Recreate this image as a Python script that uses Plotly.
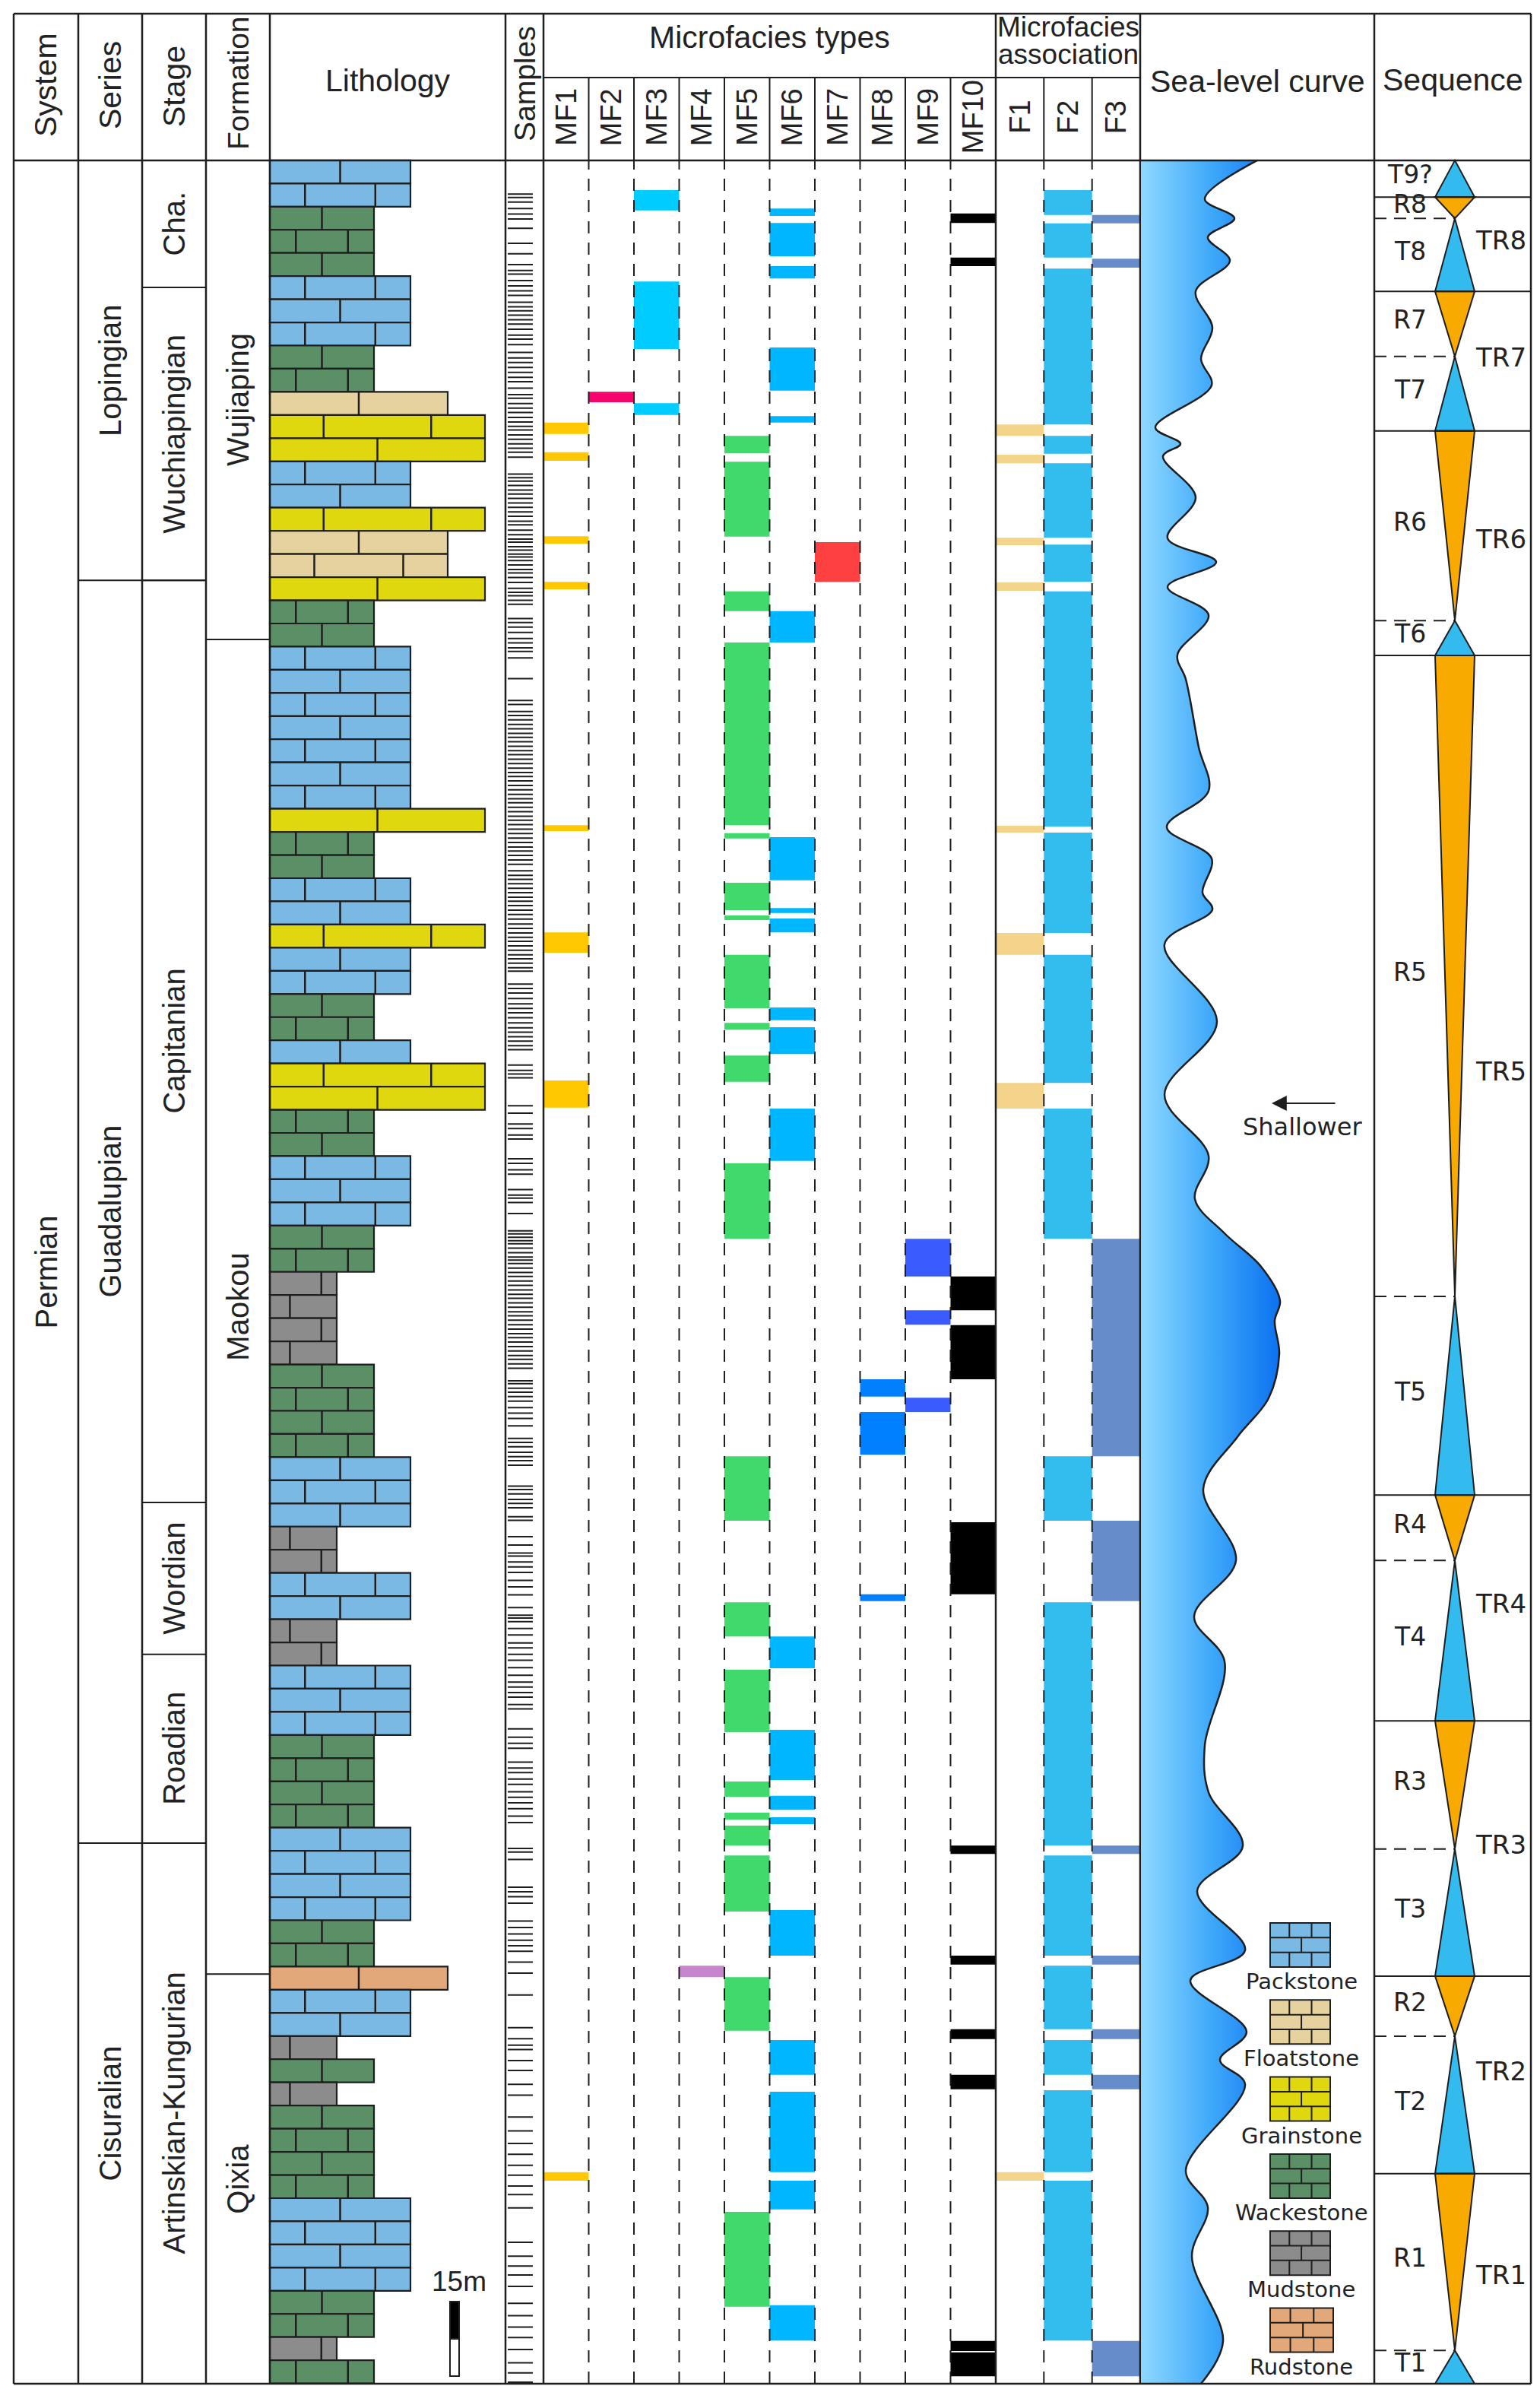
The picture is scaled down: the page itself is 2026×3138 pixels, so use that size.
import plotly.graph_objects as go

INK = "#1e1e1e"
FONT = "Liberation Sans"
WIDE = "DejaVu Sans"

# ---------------------------------------------------------------- data
# all heights in metres above the base of the section
SECTION_TOP = 447.8
BED_T = 4.664  # every bed of the column is drawn with the same thickness

# lithology bed by bed, from the top of the section downwards
LITHO = ("B B G G G B B B G G F Gr Gr B B Gr F F Gr G G B B B B B B B Gr "
         "G G B B Gr B B G G B Gr Gr G G B B B G G M M M M G G G G B B B "
         "M M B B M M B B B G G G G B B B B G G Ru B B M G M G G G G "
         "B B B B G G M G").split()

LITHO_NAMES = {"B": "Packstone", "F": "Floatstone", "Gr": "Grainstone",
               "G": "Wackestone", "M": "Mudstone", "Ru": "Rudstone"}
LEGEND_ORDER = ["B", "F", "Gr", "G", "M", "Ru"]

SYSTEM = [("Permian", 0.0, SECTION_TOP)]
SERIES = [("Lopingian", 363.2, SECTION_TOP), ("Guadalupian", 108.9, 363.2),
          ("Cisuralian", 0.0, 108.9)]
STAGES = [("Cha.", 422.2, SECTION_TOP), ("Wuchiapingian", 363.2, 422.2),
          ("Capitanian", 177.5, 363.2), ("Wordian", 146.9, 177.5),
          ("Roadian", 108.9, 146.9), ("Artinskian-Kungurian", 0.0, 108.9)]
FORMATIONS = [("Wujiaping", 351.3, SECTION_TOP), ("Maokou", 82.5, 351.3),
              ("Qixia", 0.0, 82.5)]

SAMPLES = [
    441.0, 440.3, 439.4, 438.1, 437.0, 436.0, 434.1, 431.1, 429.0, 426.8, 425.6,
    424.9, 423.6, 422.5, 421.5, 420.6, 419.2, 418.3, 417.5, 416.6, 415.7, 414.8,
    413.8, 412.6, 411.8, 410.7, 409.1, 408.0, 407.1, 406.1, 405.1, 404.1, 403.2,
    401.9, 400.6, 399.9, 398.8, 397.9, 397.0, 396.0, 395.1, 394.2, 393.5, 392.5,
    391.6, 390.7, 389.8, 389.0, 388.0, 384.6, 383.9, 383.2, 382.3, 381.4, 380.6,
    379.7, 378.8, 377.9, 377.0, 376.1, 375.1, 374.4, 373.3, 372.4, 371.5, 370.9,
    370.0, 369.3, 368.5, 367.9, 367.2, 366.3, 365.4, 364.7, 363.8, 362.8, 361.6,
    360.8, 360.1, 359.2, 358.4, 355.5, 354.7, 353.8, 352.7, 351.5, 350.6, 349.6,
    348.9, 347.6, 343.4, 339.0, 338.2, 336.8, 336.0, 335.1, 334.2, 333.3, 332.4,
    331.6, 330.7, 329.8, 328.9, 328.1, 327.2, 326.3, 325.4, 324.5, 323.7, 322.8,
    321.9, 321.0, 320.1, 319.2, 318.4, 317.5, 316.6, 315.7, 314.9, 314.0, 313.1,
    312.2, 311.3, 310.4, 309.5, 308.7, 307.8, 306.9, 306.0, 304.7, 303.8, 303.0,
    302.1, 301.2, 300.3, 299.4, 298.6, 297.7, 296.8, 295.9, 295.0, 294.0, 293.1,
    292.2, 291.3, 290.5, 289.6, 288.7, 287.8, 287.0, 286.1, 285.2, 284.5, 281.9,
    281.0, 280.1, 279.0, 277.9, 277.0, 276.1, 275.1, 274.1, 273.1, 272.2, 271.3,
    270.4, 269.5, 268.7, 265.6, 264.5, 263.8, 263.0, 257.4, 255.9, 253.7, 252.8,
    251.5, 250.7, 246.7, 245.8, 244.5, 243.6, 240.5, 239.4, 238.8, 237.9, 235.7,
    232.2, 231.6, 230.9, 230.2, 229.6, 228.7, 227.8, 226.9, 226.3, 225.6, 224.7,
    223.8, 223.0, 222.1, 221.2, 220.3, 219.4, 218.6, 217.7, 216.8, 215.9, 215.1,
    214.2, 213.3, 212.4, 211.5, 210.7, 209.8, 208.9, 208.0, 207.1, 206.3, 205.4,
    204.5, 202.0, 201.4, 200.5, 199.7, 198.8, 197.9, 196.6, 195.5, 194.4, 192.9,
    190.4, 189.6, 188.7, 187.6, 186.7, 185.9, 185.0, 180.8, 180.1, 179.2, 178.1,
    177.3, 176.4, 174.6, 173.9, 170.6, 168.9, 167.3, 166.7, 165.5, 164.5, 163.4,
    161.8, 160.5, 158.9, 156.3, 154.8, 154.2, 153.5, 152.1, 150.8, 149.2, 148.2,
    146.9, 145.7, 144.2, 142.7, 141.3, 140.3, 139.2, 138.3, 136.8, 135.9, 131.9,
    130.2, 129.0, 128.0, 125.2, 124.0, 123.1, 121.8, 120.7, 119.2, 118.1, 117.0,
    115.8, 114.3, 113.0, 107.8, 107.1, 105.6, 100.0, 99.1, 98.1, 96.8, 93.2,
    91.9, 90.6, 89.3, 88.2, 87.1, 84.9, 82.7, 78.3, 71.7, 69.5, 68.2, 67.3,
    65.1, 63.1, 60.3, 58.1, 53.7, 50.9, 48.4, 46.2, 44.0, 42.0, 39.8, 38.1,
    35.4, 28.5, 25.7, 23.7, 21.9, 19.6, 16.2, 13.7, 11.4, 9.3, 6.9, 4.2, 2.2, 0.3,
]

MF_TYPES = ["MF1", "MF2", "MF3", "MF4", "MF5", "MF6", "MF7", "MF8", "MF9", "MF10"]
MF_ASSOC = ["F1", "F2", "F3"]

# (bottom, top) of every occurrence
FACIES = {
    "MF1": [(392.7, 395.0), (387.3, 389.0), (370.6, 372.1), (361.4, 362.9),
            (312.7, 313.9), (288.2, 292.3), (257.0, 262.5), (40.9, 42.6)],
    "MF2": [(399.1, 401.2)],
    "MF3": [(437.7, 441.8), (409.8, 423.4), (396.5, 398.9)],
    "MF4": [(81.9, 84.2)],
    "MF5": [(388.8, 392.3), (372.0, 387.1), (357.0, 361.0), (313.9, 350.7),
            (311.2, 312.3), (296.8, 302.3), (294.8, 295.7), (277.0, 287.8),
            (272.7, 274.1), (262.2, 267.5), (230.6, 245.8), (173.8, 186.8),
            (150.5, 157.4), (131.2, 143.8), (118.2, 121.3), (113.6, 115.0),
            (108.4, 112.4), (95.1, 106.4), (71.1, 81.9), (15.5, 34.6)],
    "MF6": [(436.6, 438.1), (428.5, 435.2), (424.0, 426.5), (401.4, 410.1),
            (395.0, 396.3), (350.7, 357.0), (302.8, 311.5), (296.2, 297.2),
            (292.3, 295.1), (274.6, 277.2), (267.8, 273.2), (246.3, 256.8),
            (144.1, 150.5), (121.6, 131.7), (115.6, 118.4), (112.7, 114.1),
            (86.2, 95.4), (62.2, 69.2), (42.6, 58.8), (35.1, 40.9), (8.7, 15.8)],
    "MF7": [(362.9, 370.9)],
    "MF8": [(198.8, 202.3), (187.1, 195.7), (157.6, 159.0)],
    "MF9": [(223.0, 230.6), (213.3, 216.2), (195.7, 198.6)],
    "MF10": [(435.2, 437.1), (426.5, 428.2), (216.2, 223.0), (202.3, 213.2),
             (159.0, 173.5), (106.7, 108.4), (84.4, 86.2), (69.4, 71.4),
             (59.3, 62.2), (6.6, 8.6), (1.5, 6.3)],
    "F1": [(392.3, 394.6), (386.8, 388.5), (370.3, 371.8), (361.1, 362.8),
           (312.4, 313.8), (287.8, 292.2), (256.8, 262.0), (40.9, 42.6)],
    "F2": [(436.8, 441.8), (428.2, 435.1), (394.6, 426.0), (388.7, 392.3),
           (371.8, 386.8), (362.9, 370.4), (313.6, 361.0), (292.2, 312.4),
           (262.0, 287.8), (230.6, 256.8), (173.8, 186.8), (108.4, 157.4),
           (86.2, 106.4), (71.4, 84.2), (62.2, 69.2), (42.6, 59.1), (8.7, 40.9)],
    "F3": [(435.1, 436.8), (426.2, 428.0), (186.8, 230.6), (157.6, 173.8),
           (106.7, 108.4), (84.4, 86.2), (69.4, 71.4), (59.3, 62.2), (1.5, 8.6)],
}

# relative sea level (0 = left edge of the column, larger = deeper)
SEA_H = [447.8, 440.0, 436.1, 432.3, 427.6, 421.4, 414.1, 407.8, 402.5, 394.0,
         390.7, 388.2, 379.9, 371.7, 366.9, 361.9, 356.2, 348.2, 343.3, 329.6,
         320.8, 313.5, 307.2, 300.3, 296.9, 289.9, 274.3, 259.6, 247.3, 238.6,
         231.7, 225.0, 218.1, 214.1, 207.4, 198.5, 190.7, 180.2, 165.8, 154.5,
         145.5, 128.6, 119.1, 108.3, 99.2, 87.3, 81.2, 70.9, 65.2, 60.3,
         43.0, 35.5, 25.6, 8.6, 0.0]
SEA_X = [152, 83, 122, 87, 116, 71, 93, 78, 92, 18,
         51, 28, 71, 34, 98, 34, 88, 47, 58, 75,
         88, 33, 92, 80, 93, 30, 99, 30, 88, 70,
         109, 157, 182, 175, 181, 167, 126, 81, 124, 69,
         109, 83, 88, 133, 73, 136, 64, 138, 103, 136,
         58, 87, 66, 107, 78]

# transgressive / regressive half cycles: (label, kind, bottom, top)
HALF_CYCLES = [("T9?", "T", 440.4, SECTION_TOP), ("R8", "R", 436.1, 440.4),
               ("T8", "T", 421.4, 436.1), ("R7", "R", 408.3, 421.4),
               ("T7", "T", 393.3, 408.3), ("R6", "R", 355.1, 393.3),
               ("T6", "T", 348.1, 355.1), ("R5", "R", 219.0, 348.1),
               ("T5", "T", 179.0, 219.0), ("R4", "R", 165.8, 179.0),
               ("T4", "T", 133.5, 165.8), ("R3", "R", 107.7, 133.5),
               ("T3", "T", 82.1, 107.7), ("R2", "R", 70.0, 82.1),
               ("T2", "T", 42.3, 70.0), ("R1", "R", 6.7, 42.3),
               ("T1", "T", 0.0, 6.7)]
TR_CYCLES = [("TR8", 421.4, 440.4), ("TR7", 393.3, 421.4), ("TR6", 348.1, 393.3),
             ("TR5", 179.0, 348.1), ("TR4", 133.5, 179.0), ("TR3", 82.1, 133.5),
             ("TR2", 42.3, 82.1), ("TR1", 0.0, 42.3)]

SCALE_BAR_M = 15

# ---------------------------------------------------------------- styles
LITHO_STYLE = {  # fill, drawn width in px
    "B": ("#7AB9E3", 185), "G": ("#5B8F66", 137), "F": ("#E6D29E", 234),
    "Gr": ("#E0D80E", 283), "M": ("#8C8C8C", 88), "Ru": ("#E2A87A", 234),
}
JOINTS = {
    "B": ([0.5], [0.25, 0.75]), "G": ([0.5], [0.25, 0.75]),
    "F": ([0.5], [0.25, 0.75]), "Gr": ([0.5], [0.25, 0.75]),
    "M": ([0.77], [0.3]), "Ru": ([0.5], [0.5]),
}
FACIES_COLOR = {
    "MF1": "#FFC800", "MF2": "#F5046C", "MF3": "#00CCFF", "MF4": "#C685CC",
    "MF5": "#40D96C", "MF6": "#00B7FF", "MF7": "#FF4040", "MF8": "#0080FF",
    "MF9": "#3A5CFF", "MF10": "#000000",
    "F1": "#F4D38B", "F2": "#33BCEE", "F3": "#668DCA",
}
T_BLUE = "#33BBF0"
R_ORANGE = "#F9AA00"

# page geometry (image pixels)
PX_BASE = 3127
PX_PER_M = 6.53


def hy(ypx):
    return (PX_BASE - ypx) / PX_PER_M


X_BORDER_L, X_BORDER_R = 10, 2006
X_SYS, X_SER, X_STG, X_FM = (10, 95), (95, 179), (179, 263), (263, 347)
X_LITH = (347, 657)
X_SMP = (657, 707)
MF_EDGES = [707 + 59.5 * i for i in range(11)]
F_EDGES = [1302, 1365.3, 1428.7, 1492]
X_SEA = (1492, 1800)
X_SEQ = (1800, 2006)
SEQ_CX, SEQ_HW = 1906, 26

Y_TOP_PX, Y_SUB_PX, Y_HEAD_PX = 10, 94, 203

shapes = []
ann = []


def line(x0, y0, x1, y1, w=2.5, dash=None, layer="above"):
    shapes.append(dict(type="line", xref="x", yref="y", x0=x0, y0=y0, x1=x1, y1=y1,
                       layer=layer, line=dict(color=INK, width=w, dash=dash)))


def rect(x0, y0, x1, y1, fill, lw=0, layer="below"):
    shapes.append(dict(type="rect", xref="x", yref="y", x0=x0, y0=y0, x1=x1, y1=y1,
                       layer=layer, fillcolor=fill,
                       line=dict(color=INK, width=lw)))


def text(x, y, s, size=40, angle=0, family=FONT):
    ann.append(dict(x=x, y=y, xref="x", yref="y", text=s, showarrow=False,
                    textangle=angle, xanchor="center", yanchor="middle",
                    font=dict(family=family, size=size, color="#222222")))


fig = go.Figure()

# ---- lithology column
jx, jy = [], []
for i, code in enumerate(LITHO):
    top = SECTION_TOP - i * BED_T
    bot = top - BED_T
    color, width = LITHO_STYLE[code]
    x0 = X_LITH[0]
    rect(x0, bot, x0 + width, top, color, lw=2.2)
    for f in JOINTS[code][i % 2]:
        jx += [x0 + f * width, x0 + f * width, None]
        jy += [bot, top, None]
fig.add_trace(go.Scatter(x=jx, y=jy, mode="lines", line=dict(color=INK, width=2.5),
                         hoverinfo="skip", showlegend=False))

# scale bar
bar_x0, bar_x1 = 584, 596
bar_base = hy(3117)
rect(bar_x0, bar_base, bar_x1, bar_base + SCALE_BAR_M / 2, "white", lw=2, layer="above")
rect(bar_x0, bar_base + SCALE_BAR_M / 2, bar_x1, bar_base + SCALE_BAR_M, "black", lw=2,
     layer="above")
text(596, bar_base + SCALE_BAR_M + 4.0, f"{SCALE_BAR_M}m", size=37)

# ---- samples
sx, sy = [], []
for h in SAMPLES:
    sx += [660, 693, None]
    sy += [h, h, None]
fig.add_trace(go.Scatter(x=sx, y=sy, mode="lines", line=dict(color=INK, width=2),
                         hoverinfo="skip", showlegend=False))

# ---- microfacies types and associations
cols = {}
for k, name in enumerate(MF_TYPES):
    cols[name] = (MF_EDGES[k], MF_EDGES[k + 1])
for k, name in enumerate(MF_ASSOC):
    cols[name] = (F_EDGES[k], F_EDGES[k + 1])
for name, spans in FACIES.items():
    x0, x1 = cols[name]
    for b, t in spans:
        rect(x0, b, x1, t, FACIES_COLOR[name])

# ---- sea-level curve
sea_left = X_SEA[0] + 2
fig.add_trace(go.Scatter(x=[sea_left, sea_left], y=[SECTION_TOP, 0], mode="lines",
                         line=dict(width=0, color="rgba(0,0,0,0)"),
                         hoverinfo="skip", showlegend=False))
fig.add_trace(go.Scatter(
    x=[sea_left + v for v in SEA_X], y=SEA_H, mode="lines",
    line=dict(color=INK, width=2.5, shape="spline", smoothing=1.0),
    fill="tonextx",
    fillgradient=dict(type="horizontal", start=sea_left, stop=sea_left + 185,
                      colorscale=[[0, "#8ED8FF"], [0.5, "#3EA8FA"], [1, "#0A6FEF"]]),
    hoverinfo="skip", showlegend=False))

ann.append(dict(x=1665, y=hy(1443), ax=1750, ay=hy(1443), xref="x", yref="y",
                axref="x", ayref="y", text="", showarrow=True, arrowhead=2,
                arrowsize=1.8, arrowwidth=2.2, arrowcolor=INK))
text(1705, hy(1474), "Shallower", size=32, family=WIDE)

# lithology legend
leg_top, leg_step, sw_h = 2521, 101.3, 58
for k, code in enumerate(LEGEND_ORDER):
    color, _ = LITHO_STYLE[code]
    y0 = leg_top + k * leg_step
    sx0, sx1 = 1663, 1742 if code != "Ru" else 1746
    rect(sx0, hy(y0 + sw_h), sx1, hy(y0), color, lw=2, layer="above")
    rh = sw_h / 3
    for r in (1, 2):
        line(sx0, hy(y0 + r * rh), sx1, hy(y0 + r * rh), w=2)
    for r, fr in enumerate(([0.32, 0.69], [0.52], [0.32, 0.69])):
        for f in fr:
            xx = sx0 + f * (sx1 - sx0)
            line(xx, hy(y0 + r * rh), xx, hy(y0 + (r + 1) * rh), w=2)
    text(1704, hy(y0 + sw_h + 19), LITHO_NAMES[code], size=29, family=WIDE)

# ---- sequences
for label, kind, b, t in HALF_CYCLES:
    if kind == "T":
        path = f"M {SEQ_CX},{t} L {SEQ_CX - SEQ_HW},{b} L {SEQ_CX + SEQ_HW},{b} Z"
        fill = T_BLUE
    else:
        path = f"M {SEQ_CX - SEQ_HW},{t} L {SEQ_CX + SEQ_HW},{t} L {SEQ_CX},{b} Z"
        fill = R_ORANGE
    shapes.append(dict(type="path", xref="x", yref="y", path=path, fillcolor=fill,
                       line=dict(color=INK, width=2), layer="above"))
    text(1847, (b + t) / 2 + 0.8, label, size=33, family=WIDE)
tr_bounds = set()
for label, b, t in TR_CYCLES:
    text(1966, (b + t) / 2 + 0.8, label, size=34, family=WIDE)
    tr_bounds.update([b, t])
for label, kind, b, t in HALF_CYCLES:
    if b <= 0:
        continue
    if b in tr_bounds:
        line(X_SEQ[0], b, X_SEQ[1], b, w=2)
    else:
        line(X_SEQ[0], b, SEQ_CX, b, w=2, dash="16px,10px")

# ---- stratigraphic units
for units, (x0, x1) in ((SYSTEM, X_SYS), (SERIES, X_SER), (STAGES, X_STG),
                        (FORMATIONS, X_FM)):
    for name, b, t in units:
        text((x0 + x1) / 2, (b + t) / 2, name, size=40, angle=-90)
for units, (x0, x1) in ((SERIES, (X_SER[0], X_STG[1])), (STAGES, X_STG),
                        (FORMATIONS, X_FM)):
    for name, b, t in units:
        if b > 0:
            line(x0, b, x1, b, w=2)

# ---- frame and header
y_top, y_sub, y_head = hy(Y_TOP_PX), hy(Y_SUB_PX), hy(Y_HEAD_PX)
for x in (X_BORDER_L, X_SYS[1], X_SER[1], X_STG[1], X_FM[1], X_LITH[1], X_SMP[1],
          MF_EDGES[-1], X_SEA[0], X_SEQ[0], X_BORDER_R):
    line(x, 0, x, y_top, w=2.5)
for x in MF_EDGES[1:-1] + F_EDGES[1:-1]:
    line(x, y_sub, x, y_head, w=2)
    line(x, 0, x, y_head, w=2, dash="16px,12px")
line(X_BORDER_L, y_top, X_BORDER_R, y_top)
line(X_BORDER_L, y_head, X_BORDER_R, y_head)
line(X_BORDER_L, 0, X_BORDER_R, 0)
line(MF_EDGES[0], y_sub, X_SEA[0], y_sub, w=2)

text(52, hy(104), "System", size=41, angle=-90)
text(137, hy(104), "Series", size=41, angle=-90)
text(221, hy(106), "Stage", size=41, angle=-90)
text(305, hy(101), "Formation", size=39, angle=-90)
text(502, hy(98), "Lithology", size=41)
text(682, hy(102), "Samples", size=39, angle=-90)
text((MF_EDGES[0] + MF_EDGES[-1]) / 2, hy(41), "Microfacies types", size=41)
text((F_EDGES[0] + F_EDGES[-1]) / 2, hy(27), "Microfacies", size=37)
text((F_EDGES[0] + F_EDGES[-1]) / 2, hy(63), "association", size=37)
text((X_SEA[0] + X_SEA[1]) / 2, hy(99), "Sea-level curve", size=41)
text((X_SEQ[0] + X_SEQ[1]) / 2, hy(97), "Sequence", size=41)
for name, (x0, x1) in cols.items():
    text((x0 + x1) / 2, hy(146), name, size=38, angle=-90)

fig.update_layout(
    width=2026, height=3138,
    margin=dict(l=0, r=0, t=0, b=0),
    paper_bgcolor="white", plot_bgcolor="white",
    xaxis=dict(range=[0, 2026], visible=False, fixedrange=True),
    yaxis=dict(range=[hy(3138), hy(0)], visible=False, fixedrange=True),
    shapes=shapes, annotations=ann, showlegend=False,
)

fig.write_html("out.html")
